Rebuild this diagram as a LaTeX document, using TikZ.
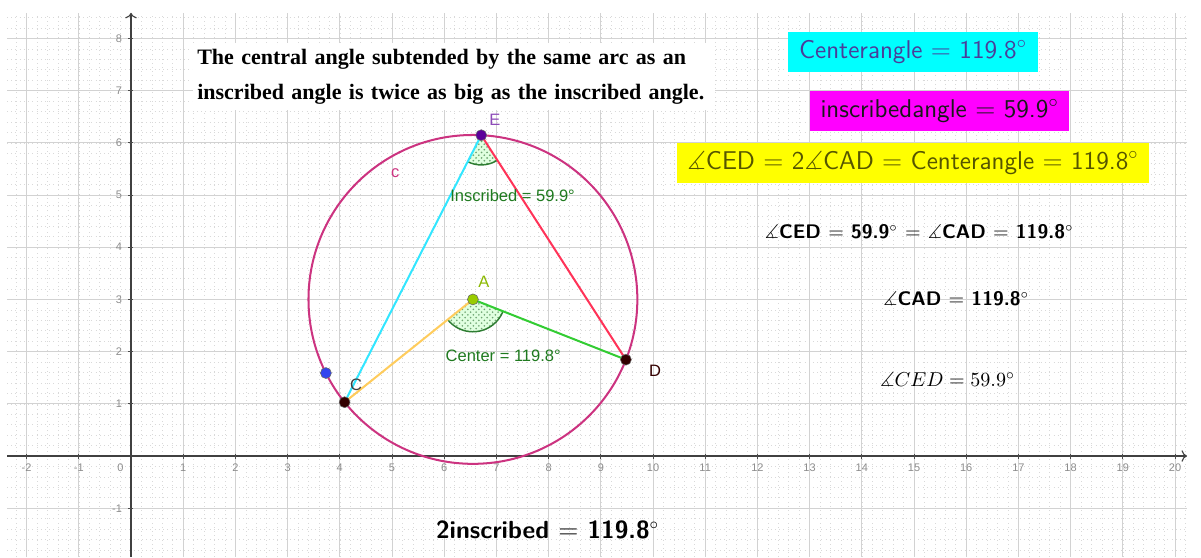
\documentclass[tikz,border=0pt]{standalone}
\usepackage{amsmath,amssymb}
\usepackage{fontspec}
\usepackage{tikz}
\usetikzlibrary{calc,arrows.meta,patterns}
\newfontfamily\headfont{Liberation Serif}
\newfontfamily\lblfont{Liberation Sans}
\definecolor{circmag}{HTML}{CC3380}
\definecolor{segcyan}{HTML}{33E6FF}
\definecolor{segred}{HTML}{FF3358}
\definecolor{segorange}{HTML}{FFCC5C}
\definecolor{seggreen}{HTML}{33CC33}
\definecolor{anggreen}{HTML}{2E7D32}
\definecolor{angtext}{HTML}{1F7A1F}
\definecolor{ptA}{HTML}{99CC00}
\definecolor{ptE}{HTML}{5C0099}
\definecolor{ptdark}{HTML}{330000}
\definecolor{ptblue}{HTML}{3344EE}
\definecolor{boxcyan}{HTML}{00FFFF}
\definecolor{boxmag}{HTML}{FF00FF}
\definecolor{boxyel}{HTML}{FFFF00}
\definecolor{txtblue}{HTML}{4A3D9A}
\definecolor{txtolive}{HTML}{555500}
\tikzset{minorgrid/.style={gray!30,dotted,line width=0.3pt},
  majorgrid/.style={gray!35,line width=0.5pt},
  axisline/.style={black!75,line width=0.6pt,-{To[length=3pt]}},
  ticklbl/.style={gray!90,font=\lblfont\fontsize{6}{7}\selectfont,inner sep=1pt},
  seg/.style={line width=1.1pt},
  pt/.style={circle,inner sep=0pt,minimum size=0.21cm,draw=black!60,line width=0.3pt},
  ptlbl/.style={font=\lblfont\fontsize{9}{10}\selectfont,inner sep=0pt},
  anglefill/.style={fill=green!12,postaction={pattern=crosshatch dots,pattern color=anggreen!70}},
  anglearc/.style={anggreen,line width=0.8pt},
  valbox/.style={minimum height=0.766cm,inner sep=0pt,font=\sffamily\fontsize{14}{16}\selectfont},
  plain/.style={inner sep=0pt,font=\sffamily\bfseries\fontsize{10.7}{12}\selectfont}}

\begin{document}
\begin{tikzpicture}
\useasboundingbox (-2.5096,-1.935) rectangle (20.498,8.736);
\draw[minorgrid] (-2.375,-1.935) grid[step=0.2] (20.23,8.49);
\draw[majorgrid] (-2.375,-1.935) grid[step=1] (20.23,8.49);
\coordinate (xl) at (-2.375,0); \coordinate (xr) at (20.23,0); \coordinate (yb) at (0,-1.935); \coordinate (yt) at (0,8.49);
\draw[axisline] (xl) -- (xr); \draw[axisline] (yb) -- (yt);
\foreach \x in {-2,-1,1,2,...,20} {\draw[black!70,line width=0.4pt] (\x,0.04) -- (\x,-0.06); \node[ticklbl,below] (tx\x) at (\x,-0.1) {\x};}
\foreach \y in {-1,1,2,...,8} {\draw[black!70,line width=0.4pt] (0.04,\y) -- (-0.06,\y); \node[ticklbl,left] (ty\y) at (-0.13,\y) {\y};}
\node[ticklbl,below left] (t0) at (-0.1,-0.1) {0};
\node[fill=white,text width=9.84cm,minimum height=1.28cm,inner xsep=0.08cm,align=left,font=\headfont\bfseries\fontsize{12}{19}\selectfont] (head) at (6.19,7.27) {The central angle subtended by the same arc as an\\inscribed angle is twice as big as the inscribed angle.};
\coordinate (A) at (6.55,3); \coordinate (C) at ($(A)+(218.7:3.15)$); \coordinate (D) at ($(A)+(338.5:3.15)$);
\coordinate (E) at ($(A)+(87.1:3.15)$); \coordinate (F) at ($(A)+(206.6:3.15)$);
\fill[anglefill] (A) -- ++(218.7:0.62) arc (218.7:338.5:0.62) -- cycle;
\fill[anglefill] (E) -- ++(242.9:0.57) arc (242.9:302.8:0.57) -- cycle;
\draw[anglearc] ($(A)+(218.7:0.62)$) arc (218.7:338.5:0.62);
\draw[anglearc] ($(E)+(242.9:0.57)$) arc (242.9:302.8:0.57);
\draw[circmag,line width=1.1pt] (A) circle (3.15);
\draw[seg,segcyan] (E) -- (C); \draw[seg,segred] (E) -- (D);
\draw[seg,segorange] (A) -- (C); \draw[seg,seggreen] (A) -- (D);
\node[pt,fill=ptA] (a) at (A) {}; \node[pt,fill=ptE] (e) at (E) {};
\node[pt,fill=ptdark] (c) at (C) {}; \node[pt,fill=ptdark] (d) at (D) {}; \node[pt,fill=ptblue] (f) at (F) {};
\node[ptlbl,ptE!70] (lE) at (6.97,6.44) {E}; \node[ptlbl,ptA!90!black] (lA) at (6.76,3.33) {A};
\node[ptlbl,black!75] (lC) at (4.31,1.36) {C}; \node[ptlbl,ptdark] (lD) at (10.04,1.63) {D};
\node[ptlbl,circmag] (lc) at (5.06,5.42) {c};
\node[ptlbl,angtext] (ins) at (7.31,4.98) {Inscribed = 59.9°};
\node[ptlbl,angtext] (cen) at (7.13,1.92) {Center = 119.8°};
\node[valbox,fill=boxcyan,minimum width=4.79cm,text=txtblue] (cbox) at (14.98,7.74) {Centerangle $=$ 119.8$^\circ$};
\node[valbox,fill=boxmag,minimum width=4.96cm,text=black!90] (mbox) at (15.49,6.61) {inscribedangle $=$ 59.9$^\circ$};
\node[valbox,fill=boxyel,minimum width=9.04cm,text=txtolive] (ybox) at (14.98,5.61) {$\measuredangle$CED $=$ 2$\measuredangle$CAD $=$ Centerangle $=$ 119.8$^\circ$};
\node[plain] (eq1) at (15.1,4.29) {$\measuredangle$CED $=$ 59.9$^\circ$ $=$ $\measuredangle$CAD $=$ 119.8$^\circ$};
\node[plain] (eq2) at (15.81,3.01) {$\measuredangle$CAD $=$ 119.8$^\circ$};
\node[inner sep=0pt,font=\fontsize{11}{12}\selectfont] (eq3) at (15.64,1.46) {$\measuredangle CED = 59.9^\circ$};
\node[plain,font=\sffamily\bfseries\fontsize{13.5}{15}\selectfont] (eq4) at (7.98,-1.42) {2inscribed $=$ 119.8$^\circ$};
\end{tikzpicture}
\end{document}
